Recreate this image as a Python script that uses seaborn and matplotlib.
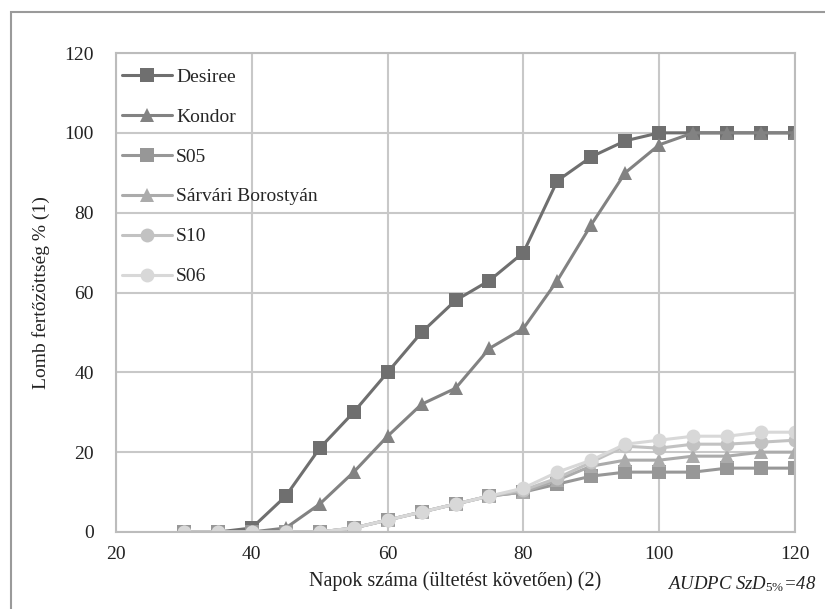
import pandas as pd
import matplotlib.pyplot as plt
import seaborn as sns
from matplotlib.patches import Rectangle

days = [30, 35, 40, 45, 50, 55, 60, 65, 70, 75, 80, 85, 90, 95, 100, 105, 110, 115, 120]
desiree = [0, 0, 1, 9, 21, 30, 40, 50, 58, 63, 70, 88, 94, 98, 100, 100, 100, 100, 100]
kondor = [0, 0, 0, 1, 7, 15, 24, 32, 36, 46, 51, 63, 77, 90, 97, 100, 100, 100, 100]
s05 = [0, 0, 0, 0, 0, 1, 3, 5, 7, 9, 10, 12, 14, 15, 15, 15, 16, 16, 16]
sarvari = [0, 0, 0, 0, 0, 1, 3, 5, 7, 9, 10, 13, 16.5, 18, 18, 19, 19, 20, 20]
s10 = [0, 0, 0, 0, 0, 1, 3, 5, 7, 9, 10.5, 13.5, 17.5, 21.5, 21, 22, 22, 22.5, 23]
s06 = [0, 0, 0, 0, 0, 1, 3, 5, 7, 9, 11, 15, 18, 22, 23, 24, 24, 25, 25]

names = ["Desiree", "Kondor", "S05", "Sárvári Borostyán", "S10", "S06"]
series = [desiree, kondor, s05, sarvari, s10, s06]
colors = ["#6f6f6f", "#828282", "#979797", "#ababab", "#c2c2c2", "#d8d8d8"]
marks = ["s", "^", "s", "^", "o", "o"]

rows = []
for n, vals in zip(names, series):
    for d, v in zip(days, vals):
        rows.append({"nap": d, "ertek": v, "fajta": n})
df = pd.DataFrame(rows)

sns.set_style("white")
plt.rcParams["font.family"] = ["Liberation Serif", "DejaVu Serif"]
plt.rcParams["mathtext.fontset"] = "custom"
plt.rcParams["mathtext.it"] = "Liberation Serif:italic"
plt.rcParams["mathtext.rm"] = "Liberation Serif"

fig = plt.figure(figsize=(8.25, 6.09), dpi=100)
ax = fig.add_axes([116 / 825, 1 - 532 / 609, 679 / 825, 479 / 609])

sns.lineplot(data=df, x="nap", y="ertek", hue="fajta", style="fajta",
             hue_order=names, style_order=names,
             palette=dict(zip(names, colors)), markers=dict(zip(names, marks)),
             dashes=False, linewidth=2.2, markersize=10, markeredgewidth=0, ax=ax)

ax.set_xlim(20, 120)
ax.set_ylim(0, 120)
ax.set_xticks(range(20, 121, 20))
ax.set_yticks(range(0, 121, 20))
ax.grid(True, color="#c8c8c8", linewidth=1.5)
for s in ax.spines.values():
    s.set_color("#bcbcbc")
    s.set_linewidth(1.5)
ax.tick_params(axis="both", labelsize=14, length=0, colors="#222222")
ax.tick_params(axis="x", pad=10)
ax.tick_params(axis="y", pad=16)
ax.set_xlabel("Napok száma (ültetést követően) (2)", fontsize=14.5, color="#222222", labelpad=6)
ax.set_ylabel("Lomb fertőzöttség % (1)", fontsize=14, color="#222222", labelpad=10)

leg = ax.legend(loc="upper left", bbox_to_anchor=(-0.003, 0.985), frameon=False,
                fontsize=14, labelspacing=1.15, handlelength=2.6, handletextpad=0.2,
                borderaxespad=0.0)

fig.text(0.99, 1 - 584 / 609, r"$\mathit{AUDPC\ SzD_{5\%}}$=48", ha="right", va="center",
         fontsize=13.5, style="italic", color="#222222")

fig.patches.append(Rectangle((11 / 825, -0.1), 1.2, 1 - 12 / 609 + 0.1, transform=fig.transFigure,
                             fill=False, edgecolor="#9a9a9a", linewidth=1.5))

plt.savefig("out.png", dpi=100)
